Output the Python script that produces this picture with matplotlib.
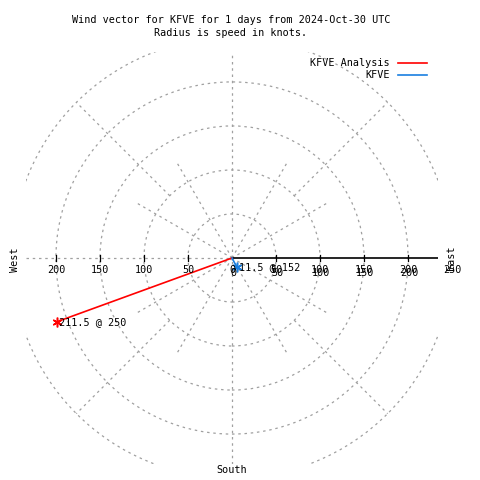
import numpy as np
import matplotlib
matplotlib.use('Agg')
import matplotlib.pyplot as plt
from matplotlib.patches import Circle

# wind data: speed (knots) and direction (degrees)
series = ['KFVE Analysis', 'KFVE']
speeds = [211.5, 11.5]
dirs = [250, 152]
colors = ['#ff0000', '#1a7fe0']

title = 'Wind vector for KFVE for 1 days from 2024-Oct-30 UTC\nRadius is speed in knots.'
rings = [50, 100, 150, 200, 250]
rtics = [0, 50, 100, 150, 200]
xtics = [-200, -150, -100, -50, 0, 50, 100, 150, 200, 250]

plt.rcParams['font.family'] = 'DejaVu Sans Mono'
plt.rcParams['font.size'] = 7.3

fig = plt.figure(figsize=(4.8, 4.8), dpi=100)
lim = 234
ax = fig.add_axes([26/480, 16/480, 412/480, 412/480])
ax.set_xlim(-lim, lim)
ax.set_ylim(-lim, lim)
ax.set_aspect('equal')
ax.axis('off')

grid = dict(color='#a0a0a0', lw=0.9, ls=(0, (2, 3)))

# polar grid circles
for r in rings:
    ax.add_patch(Circle((0, 0), r, fill=False, **grid))

# spokes
for a in range(0, 360, 30):
    if a % 90 == 0:
        continue
    t = np.radians(a)
    ax.plot([0, 125*np.cos(t)], [0, 125*np.sin(t)], **grid)
for a in [45, 135, 225, 315]:
    t = np.radians(a)
    ax.plot([100*np.cos(t), 250*np.cos(t)], [100*np.sin(t), 250*np.sin(t)], **grid)
ax.plot([0, 0], [-lim, lim], **grid)
ax.plot([-lim, 0], [0, 0], **grid)

# r axis
ax.plot([0, lim], [0, 0], color='black', lw=1.2)
for x in xtics:
    if x != 0 and abs(x) < lim:
        ax.plot([x, x], [-3.5, 3.5], color='black', lw=0.9)

# tick labels (x tics and r tics overlap on the right)
for x in xtics:
    ax.text(x, -13.5, str(abs(x)), ha='center', va='center')
for r in rtics:
    ax.text(r + 1.5, -16.5, str(r), ha='center', va='center')

# wind vectors
for name, s, d, c in zip(series, speeds, dirs, colors):
    t = np.radians(d)
    x, y = s*np.sin(t), s*np.cos(t)
    ax.plot([0, x], [0, y], color=c, lw=1.2)
    ax.plot(x, y, marker=(6, 2, 0), color=c, ms=7, mew=1.1, clip_on=False)
    ax.text(x + 2.5, y, f'{s} @ {d}', ha='left', va='center')

# legend
for i, (name, c) in enumerate(zip(series, colors)):
    ly = 221.5 - i*13.5
    ax.text(179.5, ly, name, ha='right', va='center')
    ax.plot([188.5, 221.5], [ly, ly], color=c, lw=1.2, clip_on=False)

# compass labels
ax.text(-247, -2, 'West', rotation=90, ha='center', va='center')
ax.text(249, 0, 'East', rotation=90, ha='center', va='center')
ax.text(0, -241, 'South', ha='center', va='center')

fig.text(231/480, 1 - 26.5/480, title, ha='center', va='center', linespacing=1.4)

fig.savefig('out.png', dpi=100)
